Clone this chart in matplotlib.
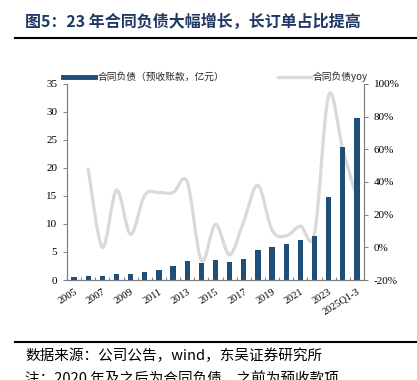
import matplotlib
matplotlib.use('Agg')
import matplotlib.pyplot as plt
import numpy as np
from matplotlib.path import Path
from matplotlib.patches import PathPatch
from matplotlib.lines import Line2D
from matplotlib.ticker import FuncFormatter, MultipleLocator, FixedLocator

plt.rcParams['font.family'] = ['Liberation Serif', 'Noto Sans CJK SC', 'DejaVu Sans']
cjk = ['Noto Sans CJK SC', 'DejaVu Sans']

# data
years = [str(y) for y in range(2005, 2025)] + ['2025Q1-3']
liab = [0.5, 0.7, 0.7, 1.0, 1.05, 1.4, 1.85, 2.5, 3.4, 3.1, 3.5, 3.3, 3.8,
        5.3, 5.9, 6.4, 7.1, 7.9, 14.9, 23.8, 29.0]
# yoy starts at 2006
yoy = [0.48, 0.00, 0.35, 0.08, 0.32, 0.335, 0.335, 0.40, -0.08, 0.14, -0.045,
       0.16, 0.38, 0.105, 0.07, 0.13, 0.085, 0.93, 0.60, 0.30]

navy = '#1F4E79'
grey_line = '#D9D9D9'
axis_col = '#7F7F7F'

W, H = 417, 380
fig = plt.figure(figsize=(W / 100, H / 100), dpi=100)

# plot box in pixels: left 67, right 364, top 84, bottom 280
ax = fig.add_axes([67 / W, 1 - 280 / H, (364 - 67) / W, (280 - 84) / H])
ax2 = ax.twinx()

x = np.arange(len(years))
ax.bar(x, liab, width=0.38, color=navy, zorder=2)
ax.set_xlim(-0.5, len(years) - 0.5)
ax.set_ylim(0, 35)
ax.yaxis.set_major_locator(MultipleLocator(5))

# smooth yoy line (Catmull-Rom style, like Excel's smoothed line)
xs = x[1:].astype(float)
ys = np.array(yoy)
pts = np.column_stack([xs, ys])
verts = [pts[0]]
codes = [Path.MOVETO]
n = len(pts)
for i in range(n - 1):
    p0 = pts[i - 1] if i > 0 else pts[i]
    p1 = pts[i]
    p2 = pts[i + 1]
    p3 = pts[i + 2] if i + 2 < n else pts[i + 1]
    c1 = p1 + (p2 - p0) / 6
    c2 = p2 - (p3 - p1) / 6
    verts += [c1, c2, p2]
    codes += [Path.CURVE4] * 3
ax2.add_patch(PathPatch(Path(verts, codes), facecolor='none',
                        edgecolor=grey_line, lw=2.3, capstyle='round', zorder=3))
ax2.set_ylim(-0.2, 1.0)
ax2.yaxis.set_major_locator(MultipleLocator(0.2))
ax2.yaxis.set_major_formatter(FuncFormatter(lambda v, p: '{:.0f}%'.format(v * 100)))

ax.set_zorder(ax2.get_zorder() + 1)
ax.patch.set_visible(False)

for a in (ax, ax2):
    a.spines['top'].set_visible(False)
    for s in ('left', 'right', 'bottom'):
        a.spines[s].set_color(axis_col)
        a.spines[s].set_linewidth(0.8)

ax.tick_params(axis='y', direction='out', length=3, width=0.7, color=axis_col,
               labelsize=8, pad=4)
ax2.tick_params(axis='y', direction='out', length=3, width=0.7, color=axis_col,
                labelsize=8, pad=4)

# x labels every other year plus the last period
lab_idx = list(range(0, 20, 2)) + [20]
ax.xaxis.set_major_locator(FixedLocator(lab_idx))
ax.set_xticklabels([years[i] for i in lab_idx], rotation=32, ha='right',
                   va='top', rotation_mode='anchor', fontsize=7.5)
ax.tick_params(axis='x', which='major', length=0, pad=5)
ax.xaxis.set_minor_locator(FixedLocator(np.arange(-0.5, len(years), 1.0)))
ax.tick_params(axis='x', which='minor', direction='in', length=2.5, width=0.7,
               color=axis_col)

# legend drawn manually
ly = 1 - 77 / H
fig.add_artist(Line2D([63 / W, 95 / W], [ly, ly], color=navy, lw=3.5))
fig.text(98 / W, ly, '合同负债（预收账款，亿元）', family=cjk, fontsize=7,
         va='center', ha='left', color='#262626')
fig.add_artist(Line2D([278 / W, 311 / W], [ly, ly], color=grey_line, lw=2.3))
fig.text(313 / W, ly, '合同负债yoy', family=cjk, fontsize=7,
         va='center', ha='left', color='#262626')

# title and rules
fig.text(25 / W, 1 - 22 / H, '图5：23 年合同负债大幅增长，长订单占比提高',
         family=cjk, fontsize=11.5, fontweight='bold', color='#1F3864',
         va='center', ha='left')
fig.add_artist(Line2D([15 / W, 1.0], [1 - 38 / H, 1 - 38 / H], color='black', lw=1.5))
fig.add_artist(Line2D([15 / W, 1.0], [1 - 342 / H, 1 - 342 / H], color='black', lw=1.5))

fig.text(25 / W, 1 - 356 / H, '数据来源：公司公告，wind，东吴证券研究所',
         family=cjk, fontsize=10.5, va='center', ha='left', color='black')
fig.text(25 / W, 1 - 371 / H, '注：2020 年及之后为合同负债，之前为预收款项',
         family=cjk, fontsize=10.5, va='top', ha='left', color='black')

fig.savefig('out.png', dpi=100)
